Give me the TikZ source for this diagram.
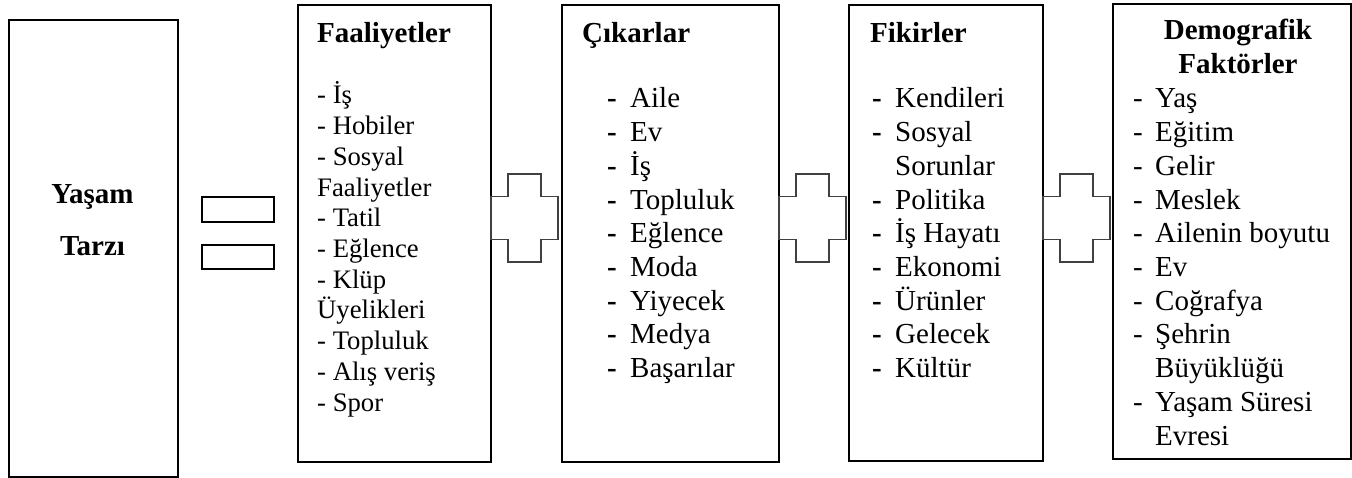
\documentclass[tikz,border=0pt]{standalone}
\usepackage{fontspec}
\setmainfont{Liberation Serif}
% list markers: a bold dash, a plain dash, and the matching indent
\newcommand\bdash{\makebox[23pt][l]{\textbf{-}}}
\newcommand\pdash{\makebox[22pt][l]{-}}
\newcommand\bgap{\hspace*{23pt}}
\newcommand\pgap{\hspace*{22pt}}
\begin{document}
\begin{tikzpicture}[x=1pt,y=-1pt,
  frame/.style={draw=black,line width=1.8pt,anchor=north west,inner sep=0pt},
  headtxt/.style={font=\fontsize{29}{33.7}\selectfont\bfseries,anchor=base west,inner sep=0pt},
  smallitem/.style={font=\fontsize{26.7}{30.7}\selectfont,anchor=base west,inner sep=0pt},
  bigitem/.style={font=\fontsize{29}{33.7}\selectfont,anchor=base west,inner sep=0pt},
  crossline/.style={draw=black!75,line width=1.1pt},
  crosssign/.pic={
    \draw[crossline] (-33.5,-21.5) -- (-16.5,-21.5) -- (-16.5,-44) -- (16.5,-44)
      -- (16.5,-21.5) -- (33.5,-21.5) -- (33.5,21.5) -- (16.5,21.5) -- (16.5,44)
      -- (-16.5,44) -- (-16.5,21.5) -- (-33.5,21.5) -- cycle;
  }]
\useasboundingbox (0,0) rectangle (1352,478);

% boxes
\node[frame,minimum width=169pt,minimum height=457pt] (life) at (8,19) {};
\node[frame,minimum width=193pt,minimum height=457pt] (act) at (297,4) {};
\node[frame,minimum width=217pt,minimum height=457pt] (int) at (561,4) {};
\node[frame,minimum width=194pt,minimum height=456pt] (opi) at (848,4) {};
\node[frame,minimum width=238pt,minimum height=455pt] (dem) at (1112,3) {};

% equals sign
\node[frame,minimum width=72pt,minimum height=25pt] (eqa) at (201,196) {};
\node[frame,minimum width=72pt,minimum height=24pt] (eqb) at (201,244) {};

% plus signs between the boxes
\pic at (524.5,218) {crosssign};
\pic at (812.5,218) {crosssign};
\pic at (1076.5,218) {crosssign};

% left box
\node[headtxt,anchor=base] (lifea) at (92.5,204) {Yaşam};
\node[headtxt,anchor=base] (lifeb) at (92.5,256) {Tarzı};

% Faaliyetler
\node[headtxt] (acth) at (317,43) {Faaliyetler};
\foreach \t [count=\i] in {- İş,- Hobiler,- Sosyal,Faaliyetler,- Tatil,- Eğlence,- Klüp,Üyelikleri,- Topluluk,- Alış veriş,- Spor}
  \node[smallitem] (act\i) at (317,{104+(\i-1)*30.7}) {\t};

% Çıkarlar
\node[headtxt] (inth) at (582,43) {Çıkarlar};
\foreach \t [count=\i] in {Aile,Ev,İş,Topluluk,Eğlence,Moda,Yiyecek,Medya,Başarılar}
  \node[bigitem] (int\i) at (607,{108+(\i-1)*33.7}) {\bdash\t};

% Fikirler
\node[headtxt] (opih) at (870,43) {Fikirler};
\foreach \t [count=\i] in {\bdash Kendileri,\bdash Sosyal,\bgap Sorunlar,\bdash Politika,\bdash İş Hayatı,\bdash Ekonomi,\bdash Ürünler,\bdash Gelecek,\bdash Kültür}
  \node[bigitem] (opi\i) at (872,{108+(\i-1)*33.7}) {\t};

% Demografik Faktörler
\node[headtxt,anchor=base] (demha) at (1238,40) {Demografik};
\node[headtxt,anchor=base] (demhb) at (1238,74) {Faktörler};
\foreach \t [count=\i] in {\pdash Yaş,\pdash Eğitim,\pdash Gelir,\pdash Meslek,\pdash Ailenin boyutu,\pdash Ev,\pdash Coğrafya,\pdash Şehrin,\pgap Büyüklüğü,\pdash Yaşam Süresi,\pgap Evresi}
  \node[bigitem] (dem\i) at (1133,{108+(\i-1)*33.7}) {\t};
\end{tikzpicture}
\end{document}
